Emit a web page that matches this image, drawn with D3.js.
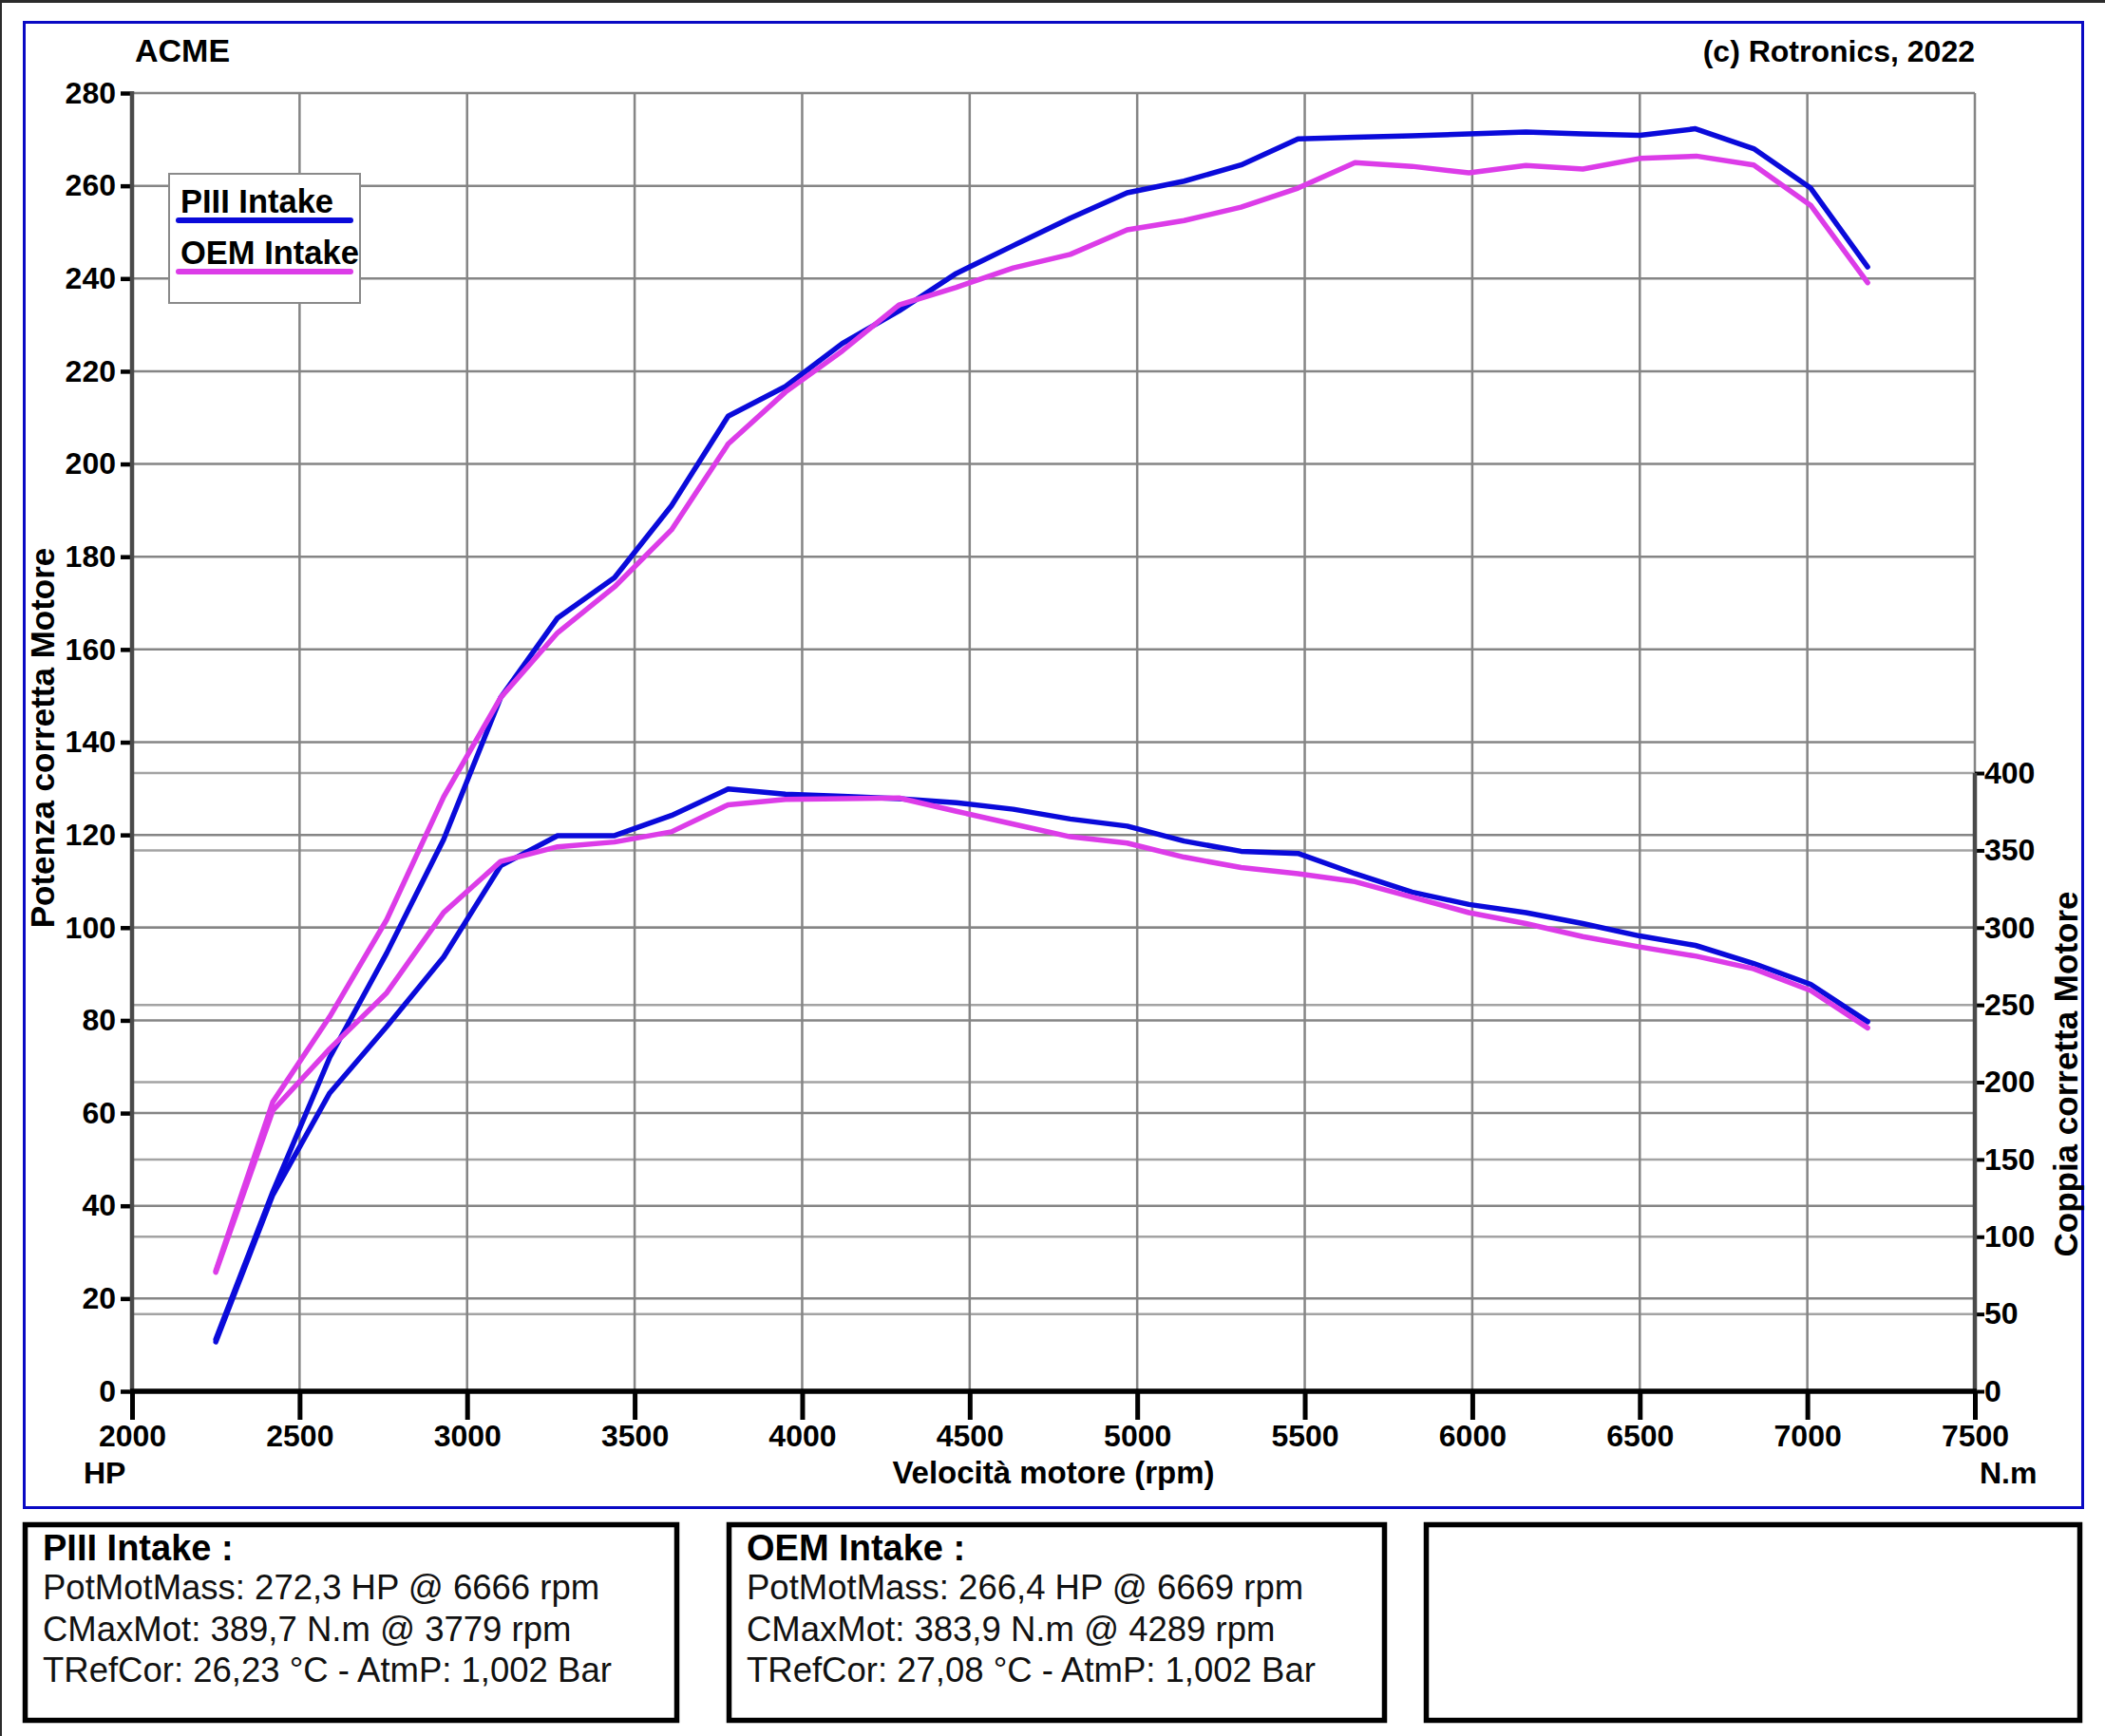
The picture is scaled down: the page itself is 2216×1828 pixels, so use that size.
<!DOCTYPE html>
<html>
<head>
<meta charset="utf-8">
<script src="https://cdn.jsdelivr.net/npm/d3@7"></script>
<style>
  body { margin: 0; background: #fff; }
  svg { display: block; }
  text { font-family: "Liberation Sans", Arial, Helvetica, sans-serif; }
</style>
</head>
<body>
<div id="drawArea"></div>
<script>
// run data
var rpmPIII = [2250, 2420, 2590, 2760, 2930, 3100, 3270, 3440, 3610, 3779, 3950, 4120, 4289, 4460, 4630,
               4800, 4970, 5140, 5310, 5480, 5650, 5820, 5990, 6160, 6330, 6500, 6666, 6840, 7010, 7180];
var hpPIII = [11.2, 43, 72, 94.5, 119, 149.6, 166.8, 175.5, 191, 210.3, 216.7, 226, 233, 241.1, 247.1,
              253, 258.5, 261, 264.5, 270.1, 270.5, 270.8, 271.2, 271.6, 271.2, 270.9, 272.3, 268, 259.5, 242.5];
var nmPIII = [32, 127, 193, 236, 281, 340, 359.5, 359.5, 372.6, 389.7, 386.3, 384.9, 383.5, 380.8, 376.6,
              370.3, 365.7, 356, 349.4, 348, 334.9, 323, 315, 309.7, 302.6, 294.6, 288.5, 276.8, 263.3, 239.1];

var rpmOEM = [2250, 2420, 2590, 2760, 2930, 3100, 3270, 3440, 3610, 3779, 3950, 4120, 4289, 4460, 4630,
              4800, 4970, 5140, 5310, 5480, 5650, 5820, 5990, 6160, 6330, 6500, 6669, 6840, 7010, 7180];
var hpOEM = [26, 62.4, 80.8, 101.7, 128.2, 149.6, 163.6, 173.5, 185.8, 204.3, 215.5, 224.4, 234.3, 238.1, 242.3,
             245.2, 250.5, 252.5, 255.4, 259.5, 265, 264.2, 262.8, 264.4, 263.6, 265.9, 266.4, 264.5, 255.8, 239.1];
var nmOEM = [77, 181.6, 221.6, 257.8, 309.8, 342.8, 352.3, 355.4, 362, 379.5, 383, 383.5, 383.9, 375.3, 367,
             358.8, 354.7, 345.6, 338.9, 334.9, 329.8, 319.8, 309.7, 302.6, 294.2, 287.5, 281.5, 273.4, 259.3, 235.1];

var seriesNames = ["PIII Intake", "OEM Intake"];
var seriesColors = ["#0a0ada", "#dc3ce8"];

var xTicks = [2000, 2500, 3000, 3500, 4000, 4500, 5000, 5500, 6000, 6500, 7000, 7500];
var hpTicks = [0, 20, 40, 60, 80, 100, 120, 140, 160, 180, 200, 220, 240, 260, 280];
var nmTicks = [0, 50, 100, 150, 200, 250, 300, 350, 400];

var infoTitles = ["PIII Intake :", "OEM Intake :", ""];
var infoLines = [
  ["PotMotMass: 272,3 HP @ 6666 rpm", "CMaxMot: 389,7 N.m @ 3779 rpm", "TRefCor: 26,23 \u00b0C - AtmP: 1,002 Bar"],
  ["PotMotMass: 266,4 HP @ 6669 rpm", "CMaxMot: 383,9 N.m @ 4289 rpm", "TRefCor: 27,08 \u00b0C - AtmP: 1,002 Bar"],
  []
];

var W = 2216, H = 1828;
var plotL = 139, plotR = 2079, plotT = 98, plotB = 1465;
var fontSize = 32;

var svg = d3.select("#drawArea").append("svg")
  .attr("width", W)
  .attr("height", H);

svg.append("rect").attr("width", W).attr("height", H).attr("fill", "#fff");

// dark edge of the screenshot
svg.append("rect").attr("x", 0).attr("y", 0).attr("width", W).attr("height", 3).attr("fill", "#2b2b2b");
svg.append("rect").attr("x", 0).attr("y", 0).attr("width", 2).attr("height", H).attr("fill", "#2b2b2b");

// blue frame round the graph
svg.append("rect")
  .attr("x", 25.5).attr("y", 23.5)
  .attr("width", 2167).attr("height", 1564)
  .attr("fill", "none")
  .attr("stroke", "#0a0ac4")
  .attr("stroke-width", 3);

var x = d3.scaleLinear().domain([2000, 7500]).range([plotL, plotR]);
var yHP = d3.scaleLinear().domain([0, 280]).range([plotB, plotT]);
var yNm = d3.scaleLinear().domain([0, 840]).range([plotB, plotT]);

// grid
var grid = svg.append("g");
grid.selectAll("line.nm")
  .data(nmTicks.filter(function(d) { return d > 0; }))
  .enter().append("line")
    .attr("x1", plotL).attr("x2", plotR)
    .attr("y1", function(d) { return yNm(d); })
    .attr("y2", function(d) { return yNm(d); })
    .attr("stroke", "#a3a3a3")
    .attr("stroke-width", 2.5);
grid.selectAll("line.hp")
  .data(hpTicks.filter(function(d) { return d > 0; }))
  .enter().append("line")
    .attr("x1", plotL).attr("x2", plotR)
    .attr("y1", function(d) { return yHP(d); })
    .attr("y2", function(d) { return yHP(d); })
    .attr("stroke", "#858585")
    .attr("stroke-width", 2.5);
grid.selectAll("line.v")
  .data(xTicks.filter(function(d) { return d > 2000; }))
  .enter().append("line")
    .attr("x1", function(d) { return x(d); })
    .attr("x2", function(d) { return x(d); })
    .attr("y1", plotT).attr("y2", plotB)
    .attr("stroke", "#858585")
    .attr("stroke-width", 2.5);

// curves
function pts(rpm, vals) {
  return rpm.map(function(r, i) { return [r, vals[i]]; });
}
var lineHP = d3.line().x(function(d) { return x(d[0]); }).y(function(d) { return yHP(d[1]); });
var lineNm = d3.line().x(function(d) { return x(d[0]); }).y(function(d) { return yNm(d[1]); });

var curves = [
  { gen: lineNm, data: pts(rpmPIII, nmPIII), color: seriesColors[0] },
  { gen: lineHP, data: pts(rpmPIII, hpPIII), color: seriesColors[0] },
  { gen: lineNm, data: pts(rpmOEM, nmOEM), color: seriesColors[1] },
  { gen: lineHP, data: pts(rpmOEM, hpOEM), color: seriesColors[1] }
];
curves.forEach(function(c) {
  svg.append("path")
    .attr("d", c.gen(c.data))
    .attr("fill", "none")
    .attr("stroke", c.color)
    .attr("stroke-width", 5.5)
    .attr("stroke-linejoin", "round")
    .attr("stroke-linecap", "round");
});

// axes
var axisBottom = svg.append("g")
  .attr("transform", "translate(0," + plotB + ")")
  .call(d3.axisBottom(x).tickValues(xTicks).tickSize(30).tickPadding(5).tickFormat(d3.format("d")));
var axisLeft = svg.append("g")
  .attr("transform", "translate(" + plotL + ",0)")
  .call(d3.axisLeft(yHP).tickValues(hpTicks).tickSize(12).tickPadding(5).tickFormat(d3.format("d")));
var axisRight = svg.append("g")
  .attr("transform", "translate(" + plotR + ",0)")
  .call(d3.axisRight(yNm).tickValues(nmTicks).tickSize(10).tickPadding(0).tickFormat(d3.format("d")));

[axisBottom, axisLeft, axisRight].forEach(function(a) {
  a.select(".domain").remove();
  a.selectAll(".tick line").attr("stroke", "#000").attr("stroke-width", 5);
  a.selectAll(".tick text")
    .attr("fill", "#000")
    .attr("font-size", fontSize)
    .attr("font-weight", "bold")
    .attr("font-family", "'Liberation Sans', Arial, sans-serif");
});
axisLeft.selectAll(".tick line").attr("stroke-width", 4.5);
axisRight.selectAll(".tick line").attr("stroke-width", 4);

svg.append("line")
  .attr("x1", plotL).attr("x2", plotL).attr("y1", plotT - 2).attr("y2", plotB)
  .attr("stroke", "#4a4a4a").attr("stroke-width", 4.5);
svg.append("line")
  .attr("x1", plotR).attr("x2", plotR).attr("y1", yNm(400)).attr("y2", plotB)
  .attr("stroke", "#4a4a4a").attr("stroke-width", 4.5);
svg.append("line")
  .attr("x1", plotL - 2).attr("x2", plotR + 2).attr("y1", plotB).attr("y2", plotB)
  .attr("stroke", "#000").attr("stroke-width", 5.5);

// titles and unit labels
function label(txt, tx, ty, anchor, size, weight) {
  return svg.append("text")
    .attr("x", tx).attr("y", ty)
    .attr("text-anchor", anchor)
    .attr("font-size", size)
    .attr("font-weight", weight || "bold")
    .attr("fill", "#000")
    .text(txt);
}
label("ACME", 142, 65, "start", 34);
label("(c) Rotronics, 2022", plotR, 65, "end", 32);
label("HP", 88, 1562, "start", fontSize);
label("N.m", 2084, 1562, "start", fontSize);
label("Velocit\u00e0 motore (rpm)", (plotL + plotR) / 2, 1562, "middle", 33);
label("Potenza corretta Motore", 0, 0, "middle", 35)
  .attr("transform", "translate(57,777) rotate(-90)");
label("Coppia corretta Motore", 0, 0, "middle", 35)
  .attr("transform", "translate(2187,1131) rotate(-90)");

// legend
var legend = svg.append("g");
legend.append("rect")
  .attr("x", 178).attr("y", 183).attr("width", 201).attr("height", 136)
  .attr("fill", "#fff").attr("stroke", "#8a8a8a").attr("stroke-width", 2);
seriesNames.forEach(function(name, i) {
  var ly = 224 + i * 54;
  legend.append("text")
    .attr("x", 190).attr("y", ly)
    .attr("font-size", 34.5).attr("font-weight", "bold").attr("fill", "#000")
    .text(name);
  legend.append("line")
    .attr("x1", 188).attr("x2", 369)
    .attr("y1", ly + 8).attr("y2", ly + 8)
    .attr("stroke", seriesColors[i]).attr("stroke-width", 6)
    .attr("stroke-linecap", "round");
});

// info boxes under the graph
var boxX = [24, 765, 1499];
var boxW = [691, 695, 693];
boxX.forEach(function(bx, i) {
  var g = svg.append("g").attr("transform", "translate(" + bx + ",1603)");
  g.append("rect")
    .attr("x", 2.5).attr("y", 2.5)
    .attr("width", boxW[i] - 5).attr("height", 206)
    .attr("fill", "#fff").attr("stroke", "#000").attr("stroke-width", 5.5);
  if (infoTitles[i]) {
    g.append("text")
      .attr("x", 21).attr("y", 40)
      .attr("font-size", 38).attr("font-weight", "bold").attr("fill", "#000")
      .text(infoTitles[i]);
  }
  infoLines[i].forEach(function(t, j) {
    g.append("text")
      .attr("x", 21).attr("y", 81 + j * 43.5)
      .attr("font-size", 36.5).attr("fill", "#111")
      .text(t);
  });
});
</script>
</body>
</html>
